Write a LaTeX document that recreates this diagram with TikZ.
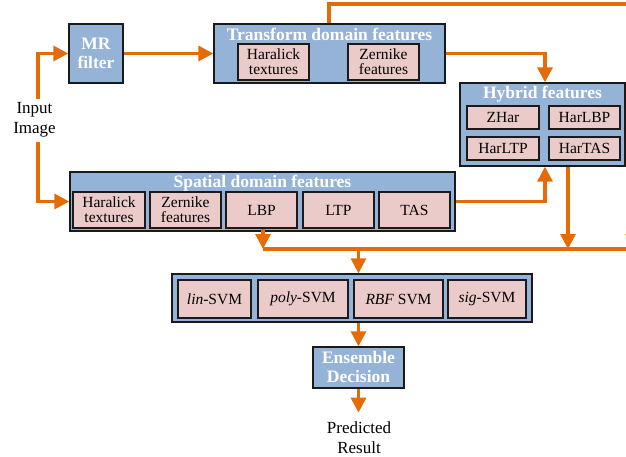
\documentclass[tikz,border=0pt]{standalone}
\usepackage{fontspec}
\setmainfont{Liberation Serif}
\usetikzlibrary{arrows.meta}
\definecolor{boxblue}{HTML}{95B3D7}
\definecolor{boxpink}{HTML}{EBCBCA}
\definecolor{flow}{HTML}{E36C09}
\definecolor{edge}{HTML}{1A1A1A}
\tikzset{
  outer/.style={fill=boxblue,draw=edge,line width=1.3pt,inner sep=0pt},
  inner/.style={fill=boxpink,draw=edge,line width=1.3pt,inner sep=0pt,align=center,
    font=\fontsize{15.5}{15}\selectfont},
  ttl/.style={text=white,font=\fontsize{17.5}{19}\selectfont\bfseries,align=center,inner sep=0pt},
  plain/.style={font=\fontsize{17}{20}\selectfont,align=center,inner sep=0pt},
  conn/.style={draw=flow,line width=3.2pt,-{Triangle[length=15pt,width=15pt]}},
  wire/.style={draw=flow,line width=3.2pt}
}
\begin{document}
\begin{tikzpicture}[x=1pt,y=-1pt]
\useasboundingbox (0,0) rectangle (626,456);
% MR filter
\node[outer,minimum width=54pt,minimum height=59pt,ttl,fill=boxblue,draw=edge,line width=1.3pt] (mr) at (96,53.5) {MR\\filter};
% Transform domain
\node[outer,minimum width=231pt,minimum height=59pt] (trans) at (329.5,53.5) {};
\node[ttl] (transT) at (329.5,34) {Transform domain features};
\node[inner,minimum width=71pt,minimum height=36pt] (har1) at (273.5,62) {Haralick\\textures};
\node[inner,minimum width=71pt,minimum height=36pt] (zer1) at (383.5,62) {Zernike\\features};
% Hybrid
\node[outer,minimum width=165pt,minimum height=83pt] (hyb) at (542.5,124.5) {};
\node[ttl] (hybT) at (542.5,94) {Hybrid features};
\node[inner,minimum width=72pt,minimum height=23pt] (zhar) at (503,117.5) {ZHar};
\node[inner,minimum width=71pt,minimum height=23pt] (harlbp) at (584.5,117.5) {HarLBP};
\node[inner,minimum width=72pt,minimum height=23pt] (harltp) at (503,148.5) {HarLTP};
\node[inner,minimum width=71pt,minimum height=23pt] (hartas) at (584.5,148.5) {HarTAS};
% Spatial
\node[outer,minimum width=385pt,minimum height=59pt] (spat) at (262.5,201.5) {};
\node[ttl] (spatT) at (262.5,183) {Spatial domain features};
\node[inner,minimum width=72pt,minimum height=36pt] (har2) at (109,210) {Haralick\\textures};
\node[inner,minimum width=71pt,minimum height=36pt] (zer2) at (185.5,210) {Zernike\\features};
\node[inner,minimum width=71pt,minimum height=36pt] (lbp) at (261.5,210) {LBP};
\node[inner,minimum width=71pt,minimum height=36pt] (ltp) at (338.5,210) {LTP};
\node[inner,minimum width=71pt,minimum height=36pt] (tas) at (414.5,210) {TAS};
% SVMs
\node[outer,minimum width=360pt,minimum height=48pt] (svm) at (352,298) {};
\node[inner,minimum width=73pt,minimum height=38pt] (lin) at (214.5,299) {\textit{lin}-SVM};
\node[inner,minimum width=90pt,minimum height=38pt] (poly) at (303,299) {\textit{poly}-SVM};
\node[inner,minimum width=89pt,minimum height=38pt] (rbf) at (398.5,299) {\textit{RBF} SVM};
\node[inner,minimum width=78pt,minimum height=38pt] (sig) at (487,299) {\textit{sig}-SVM};
% Ensemble
\node[outer,ttl,fill=boxblue,draw=edge,line width=1.3pt,minimum width=91pt,minimum height=41pt] (ens) at (358.5,367.5) {Ensemble\\Decision};
% texts
\node[plain] (in) at (34.5,120) {Input\\Image};
\node[plain] (pred) at (359,437.5) {Predicted\\Result};
% coordinates
\coordinate (inT) at (38,99);
\coordinate (inB) at (38,142);
\coordinate (topR) at (633,4);
\coordinate (busR) at (633,249);
\coordinate (bus) at (0,249);
% connectors
\draw[conn] (inT) |- (mr.west);
\draw[conn] (inB) |- (spat.west);
\draw[conn] (mr.east) -- (trans.west);
\draw[conn] (trans.east) -| ([xshift=2.5pt]hyb.north);
\draw[conn] (spat.east) -| ([xshift=2.5pt]hyb.south);
\draw[conn] ([xshift=-0.5pt]trans.north) |- (topR) -- (busR);
\draw[conn] ([xshift=25.5pt]hyb.south) -- ([xshift=25.5pt]hyb.south |- bus);
\draw[conn] ([xshift=1.5pt]lbp.south) -- ([xshift=1.5pt]lbp.south |- bus);
\draw[wire] ([xshift=1.5pt]lbp.south |- bus) -- (busR);
\draw[conn] (ens.north |- bus) -- (ens.north |- svm.north);
\draw[conn] (ens.north |- svm.south) -- (ens.north);
\draw[conn] (ens.south) -- ([yshift=-24pt]ens.south);
\end{tikzpicture}
\end{document}
